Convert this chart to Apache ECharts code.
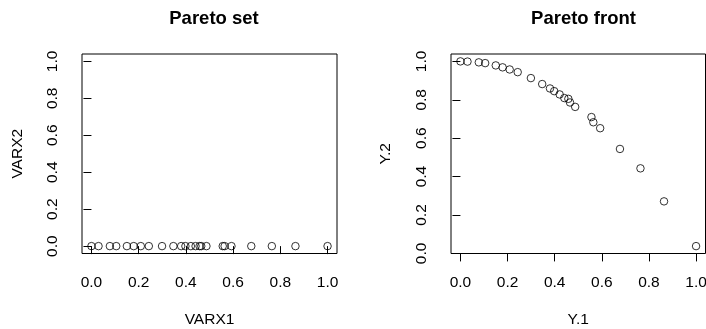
<!DOCTYPE html>
<html>
<head>
<meta charset="utf-8">
<script src="https://cdn.jsdelivr.net/npm/echarts@6/dist/echarts.min.js"></script>
<style>html,body{margin:0;padding:0;background:#fff}#c{width:706px;height:329px}</style>
</head>
<body>
<div id="c"></div>
<script>
// Pareto set (decision variables)
const varx1 = [0.000, 0.030, 0.078, 0.105, 0.150, 0.179, 0.209, 0.243, 0.299, 0.347, 0.380, 0.398, 0.421, 0.441, 0.458, 0.465, 0.487, 0.556, 0.564, 0.593, 0.677, 0.764, 0.864, 1.000];
const varx2 = [0, 0, 0, 0, 0, 0, 0, 0, 0, 0, 0, 0, 0, 0, 0, 0, 0, 0, 0, 0, 0, 0, 0, 0];
// Pareto front (objectives)
const y1 = [0.000, 0.030, 0.078, 0.105, 0.150, 0.179, 0.209, 0.243, 0.299, 0.347, 0.380, 0.398, 0.421, 0.441, 0.458, 0.465, 0.487, 0.556, 0.564, 0.593, 0.677, 0.764, 0.864, 1.000];
const y2 = [1.000, 0.999, 0.995, 0.991, 0.979, 0.969, 0.958, 0.944, 0.913, 0.882, 0.859, 0.845, 0.828, 0.809, 0.805, 0.786, 0.763, 0.710, 0.683, 0.652, 0.544, 0.443, 0.271, 0.038];
const ticks = [0, 0.2, 0.4, 0.6, 0.8, 1.0];
const titles = ["Pareto set", "Pareto front"];
const xNames = ["VARX1", "Y.1"];
const yNames = ["VARX2", "Y.2"];

function rng(lo, hi) { const d = hi - lo; return [lo - 0.04 * d, hi + 0.04 * d]; }
const xr0 = rng(0, 1), yr0 = rng(0, 1);
const xr1 = rng(Math.min(...y1), Math.max(...y1));
const yr1 = rng(Math.min(...y2), Math.max(...y2));

const FONT = "Liberation Sans, Arial, Helvetica, sans-serif";
const FS = 15.5;
function xAxis(i, r) {
  return {
    type: 'value', gridIndex: i, min: r[0], max: r[1],
    name: xNames[i], nameLocation: 'middle', nameGap: 58,
    nameTextStyle: { fontFamily: FONT, fontSize: FS, color: '#000' },
    axisLine: { show: false },
    splitLine: { show: false },
    axisTick: { show: true, inside: false, length: 8, customValues: ticks, lineStyle: { color: '#000', width: 1 } },
    axisLabel: { customValues: ticks, formatter: v => v.toFixed(1), margin: 21, fontFamily: FONT, fontSize: FS, color: '#000' }
  };
}
function yAxis(i, r, gap) {
  return {
    type: 'value', gridIndex: i, min: r[0], max: r[1],
    name: yNames[i], nameLocation: 'middle', nameGap: gap, nameRotate: 90,
    nameTextStyle: { fontFamily: FONT, fontSize: FS, color: '#000' },
    axisLine: { show: false },
    splitLine: { show: false },
    axisTick: { show: true, inside: false, length: 8, customValues: ticks, lineStyle: { color: '#000', width: 1 } },
    axisLabel: { customValues: ticks, formatter: v => v.toFixed(1), rotate: 90, margin: 21, fontFamily: FONT, fontSize: FS, color: '#000' }
  };
}
const circ = { color: 'rgba(0,0,0,0)', borderColor: '#000', borderWidth: 1 };
const chart = echarts.init(document.getElementById('c'), null, { renderer: 'canvas' });
chart.setOption({
  backgroundColor: '#fff',
  animation: false,
  title: [
    { text: titles[0], left: 209, top: 4, textAlign: 'center', textStyle: { fontFamily: FONT, fontSize: 18.5, fontWeight: 'bold', color: '#000' } },
    { text: titles[1], left: 578.5, top: 4, textAlign: 'center', textStyle: { fontFamily: FONT, fontSize: 18.5, fontWeight: 'bold', color: '#000' } }
  ],
  grid: [
    { left: 82, top: 54, width: 255, height: 199.5, containLabel: false, outerBoundsMode: 'none', show: true, borderColor: '#000', borderWidth: 1, backgroundColor: 'transparent' },
    { left: 451, top: 54, width: 254.5, height: 199.5, containLabel: false, outerBoundsMode: 'none', show: true, borderColor: '#000', borderWidth: 1, backgroundColor: 'transparent' }
  ],
  xAxis: [xAxis(0, xr0), xAxis(1, xr1)],
  yAxis: [yAxis(0, yr0, 56), yAxis(1, yr1, 57)],
  series: [
    { type: 'scatter', xAxisIndex: 0, yAxisIndex: 0, symbol: 'circle', symbolSize: 7.5, itemStyle: circ, data: varx1.map((v, k) => [v, varx2[k]]) },
    { type: 'scatter', xAxisIndex: 1, yAxisIndex: 1, symbol: 'circle', symbolSize: 7.5, itemStyle: circ, data: y1.map((v, k) => [v, y2[k]]) }
  ]
});
</script>
</body>
</html>
